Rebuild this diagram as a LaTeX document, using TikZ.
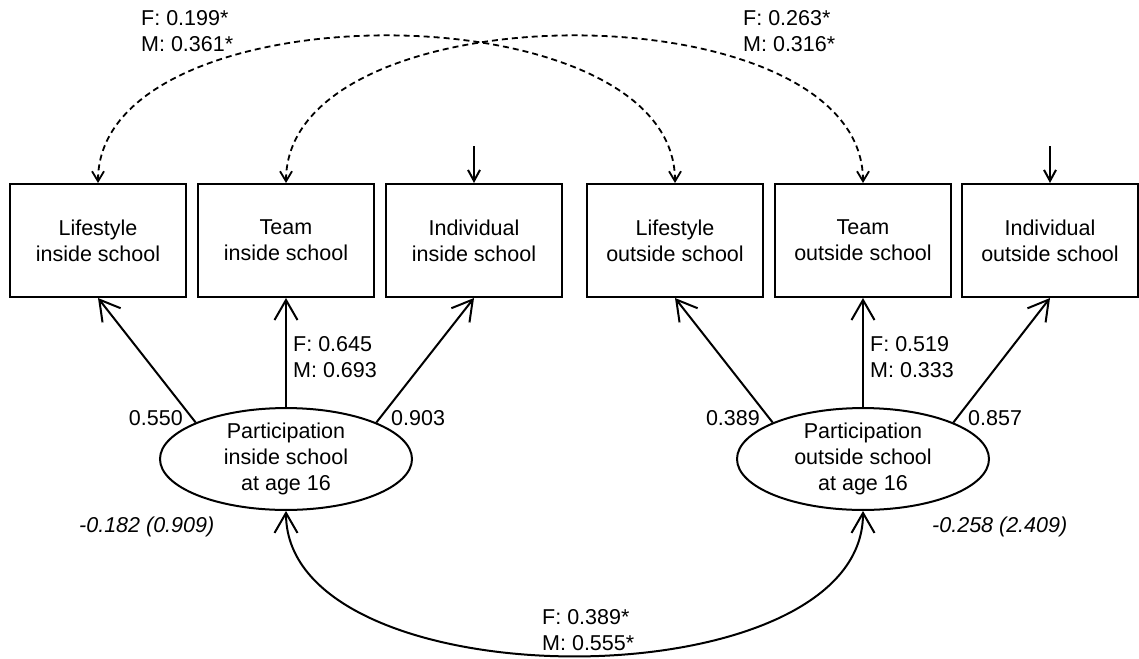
\documentclass[tikz,border=0pt]{standalone}
\usepackage{fontspec}
\setmainfont{Liberation Sans}
\usetikzlibrary{arrows.meta,shapes.geometric}

\begin{document}
\begin{tikzpicture}[x=1pt,y=-1pt,
  font=\fontsize{21.5}{26}\selectfont,
  every node/.append style={inner sep=0pt},
  indicator/.style={draw, line width=2pt, minimum width=176pt, minimum height=113pt, align=center},
  latent/.style={draw, ellipse, line width=2pt, minimum width=252pt, minimum height=101pt, align=center},
  load/.style={line width=2pt, -{Straight Barb[length=20pt,width=23pt]}},
  covar/.style={line width=1.8pt, dash pattern=on 6pt off 4pt,
    {Straight Barb[length=10pt,width=12pt]}-{Straight Barb[length=10pt,width=12pt]}},
  resid/.style={line width=2pt, -{Straight Barb[length=11pt,width=12pt]}},
  corr/.style={line width=2pt,
    {Straight Barb[length=20pt,width=23pt]}-{Straight Barb[length=20pt,width=23pt]}},
  % two-line coefficient labels, anchored at the baseline of their last line
  coef/.style={align=left, anchor=base west},
  mean/.style={anchor=base west, font=\fontsize{21.5}{26}\selectfont\itshape},
]
\useasboundingbox (0,0) rectangle (1139,658);

% observed indicators
\node[indicator] (li) at (98,240.5)   {Lifestyle\\inside school};
\node[indicator] (ti) at (286,240.5)  {Team\\inside school};
\node[indicator] (ii) at (474,240.5)  {Individual\\inside school};
\node[indicator] (lo) at (675,240.5)  {Lifestyle\\outside school};
\node[indicator] (to) at (863,240.5)  {Team\\outside school};
\node[indicator] (io) at (1050,240.5) {Individual\\outside school};

% latent factors
\node[latent] (pin)  at (286,459) {Participation\\inside school\\at age 16};
\node[latent] (pout) at (863,459) {Participation\\outside school\\at age 16};

% factor loadings
\draw[load] (pin.158)   -- (li.south);
\draw[load] (pin.north) -- (ti.south);
\draw[load] (pin.22)    -- (ii.south);
\draw[load] (pout.158)   -- (lo.south);
\draw[load] (pout.north) -- (to.south);
\draw[load] (pout.22)    -- (io.south);

% residual terms
\coordinate (ei) at (474,146);
\coordinate (eo) at (1050,146);
\draw[resid] (ei) -- (ii.north);
\draw[resid] (eo) -- (io.north);

% residual covariances
\draw[covar] (li.north) .. controls +(0,-196) and +(0,-196) .. (lo.north);
\draw[covar] (ti.north) .. controls +(0,-196) and +(0,-196) .. (to.north);

% factor correlation
\draw[corr] (pin.south) .. controls +(0,193) and +(0,193) .. (pout.south);

% coefficients
\node[anchor=base east] (c1) at (183,425) {0.550};
\node[anchor=base west] (c2) at (391,425) {0.903};
\node[anchor=base east] (c3) at (760,425) {0.389};
\node[anchor=base west] (c4) at (968,425) {0.857};
\node[coef] (c5) at (293,377) {F: 0.645\\M: 0.693};
\node[coef] (c6) at (870,377) {F: 0.519\\M: 0.333};
\node[mean] (m1) at (79,532)  {-0.182 (0.909)};
\node[mean] (m2) at (932,532) {-0.258 (2.409)};
\node[coef] (c7) at (542,650) {F: 0.389*\\M: 0.555*};
\node[coef] (c8) at (141,52)  {F: 0.199*\\M: 0.361*};
\node[coef] (c9) at (743,52)  {F: 0.263*\\M: 0.316*};
\end{tikzpicture}
\end{document}
